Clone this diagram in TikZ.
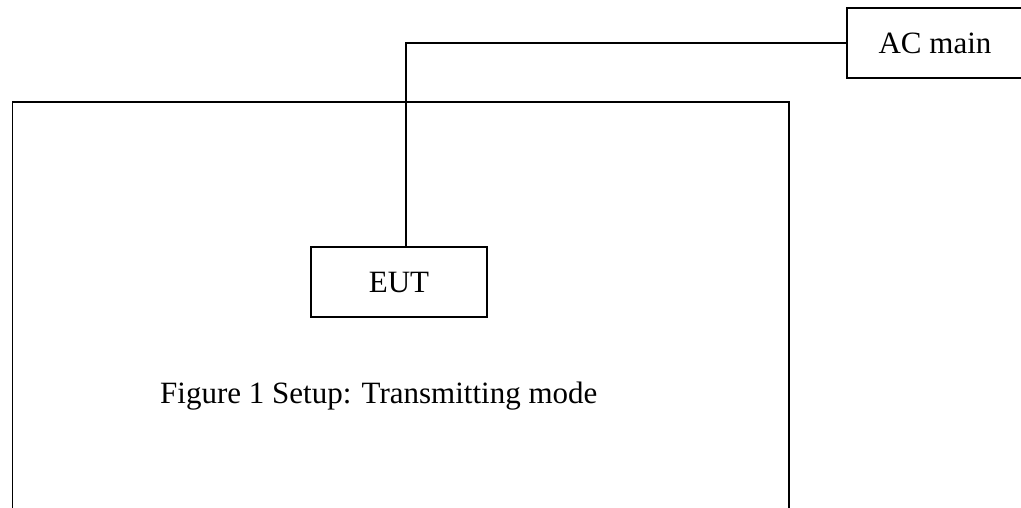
\documentclass[tikz,border=0pt]{standalone}
\usepackage{fontspec}
\setmainfont{Liberation Serif}
\begin{document}
\begin{tikzpicture}[x=1pt,y=-1pt,
  wire/.style={line width=1.6pt,black},
  boxnode/.style={draw,line width=1.6pt,rectangle,inner sep=0pt,
    font=\fontsize{31}{37}\selectfont},
  caption/.style={inner sep=0pt,font=\fontsize{31}{37}\selectfont}]
\useasboundingbox (0,0) rectangle (1021,507);
\clip (0,0) rectangle (1021,507);
% enclosure (bottom lies below the picture)
\node[draw,line width=1.6pt,rectangle,inner sep=0pt,minimum width=776.5pt,minimum height=440pt,anchor=north west] (room) at (11.5,101) {};
% AC main box (right side lies beyond the picture)
\node[boxnode,minimum width=176pt,minimum height=70pt,text depth=0pt] (ac) at (935,43) {AC main};
% EUT box
\node[boxnode,minimum width=176pt,minimum height=70pt,text depth=0pt] (eut) at (399,282) {EUT};
% caption
\node[caption,anchor=base west] (cap) at (160,403) {Figure 1 Setup: Transmitting mode};
% cable
\coordinate (bend) at (406,43);
\draw[wire] (ac.west) -- (bend) -- (bend |- eut.north);
\end{tikzpicture}
\end{document}
